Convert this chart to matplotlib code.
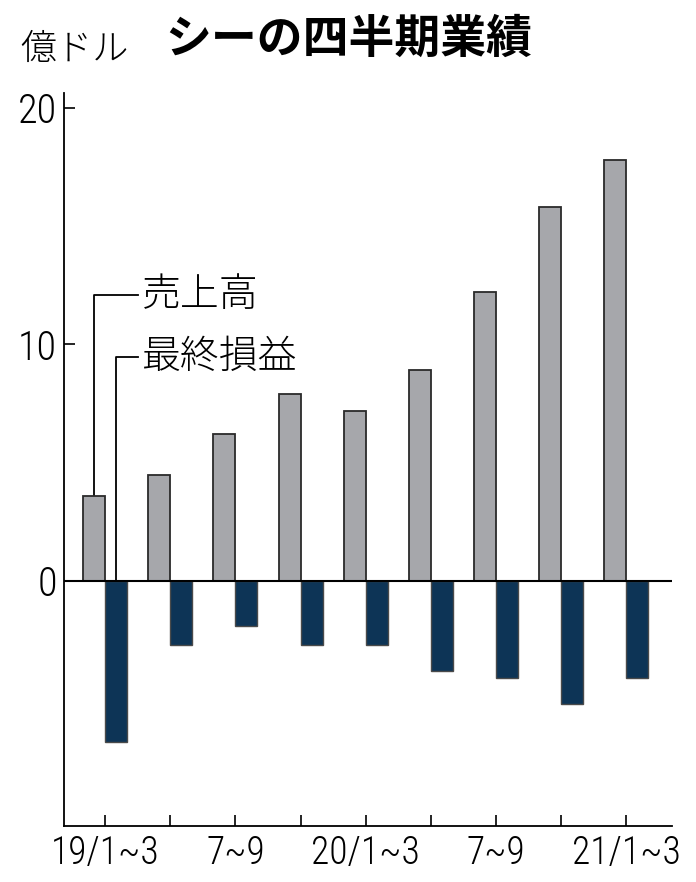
import numpy as np
import matplotlib
matplotlib.use('Agg')
import matplotlib.pyplot as plt

plt.rcParams['font.family'] = ['Noto Sans CJK JP', 'DejaVu Sans']

# 四半期ごとの売上高と最終損益（億ドル）
quarters = ['19/1~3', '4~6', '7~9', '10~12', '20/1~3', '4~6', '7~9', '10~12', '21/1~3']
sales = [3.6, 4.5, 6.2, 7.9, 7.2, 8.9, 12.2, 15.8, 17.8]
net_income = [-6.8, -2.7, -1.9, -2.7, -2.7, -3.8, -4.1, -5.2, -4.1]
tick_labels = ['19/1~3', '', '7~9', '', '20/1~3', '', '7~9', '', '21/1~3']
yticks = [0, 10, 20]

GRAY = '#a6a7ab'
NAVY = '#0d3456'
num_font = ['Roboto Condensed', 'Sofia Sans Condensed', 'Noto Sans CJK JP']

fig = plt.figure(figsize=(6.96, 8.82), dpi=100)
ax = fig.add_axes([64/696, 1 - 826/882, (672-64)/696, (826-93)/882])

x = np.arange(len(quarters))
w = 0.337
ax.bar(x - w/2, sales, width=w, color=GRAY, edgecolor='#2a2a2a', linewidth=1.3, zorder=2)
ax.bar(x + w/2, net_income, width=w, color=NAVY, edgecolor='#4a4a4a', linewidth=1.0, zorder=2)
ax.axhline(0, color='black', linewidth=1.5, zorder=3)

ax.set_xlim(-0.63, 8.70)
ax.set_ylim(-10.36, 20.63)

for s in ['top', 'right']:
    ax.spines[s].set_visible(False)
for s in ['left', 'bottom']:
    ax.spines[s].set_linewidth(1.3)

ax.set_yticks(yticks)
ax.set_yticklabels([str(v) for v in yticks], family=num_font, fontsize=29, fontweight='light')
ax.set_xticks(x)
ax.set_xticklabels(tick_labels, family=num_font, fontsize=27, fontweight='light')
ax.tick_params(axis='y', direction='in', length=8, width=1.2, pad=5)
ax.tick_params(axis='x', direction='in', length=8, width=1.2, pad=6)

# 凡例の引き出し線
y_sales_lbl = 12.1
y_net_lbl = 9.45
x_txt = 0.50
ax.plot([-w/2, -w/2, x_txt], [sales[0], y_sales_lbl, y_sales_lbl], color='black', lw=1.3, zorder=1)
ax.plot([w/2, w/2, x_txt], [0, y_net_lbl, y_net_lbl], color='black', lw=1.3, zorder=1)
ax.text(x_txt + 0.06, y_sales_lbl, '売上高', fontsize=28, fontweight='light', va='center', ha='left')
ax.text(x_txt + 0.06, y_net_lbl, '最終損益', fontsize=28, fontweight='light', va='center', ha='left')

fig.text(20/696, 1 - 50/882, '億ドル', fontsize=26, fontweight='light', va='center', ha='left')
fig.text(165/696, 1 - 40/882, 'シーの四半期業績', fontsize=33, fontweight='bold', va='center', ha='left')

fig.savefig('out.png', dpi=100, facecolor='white')
